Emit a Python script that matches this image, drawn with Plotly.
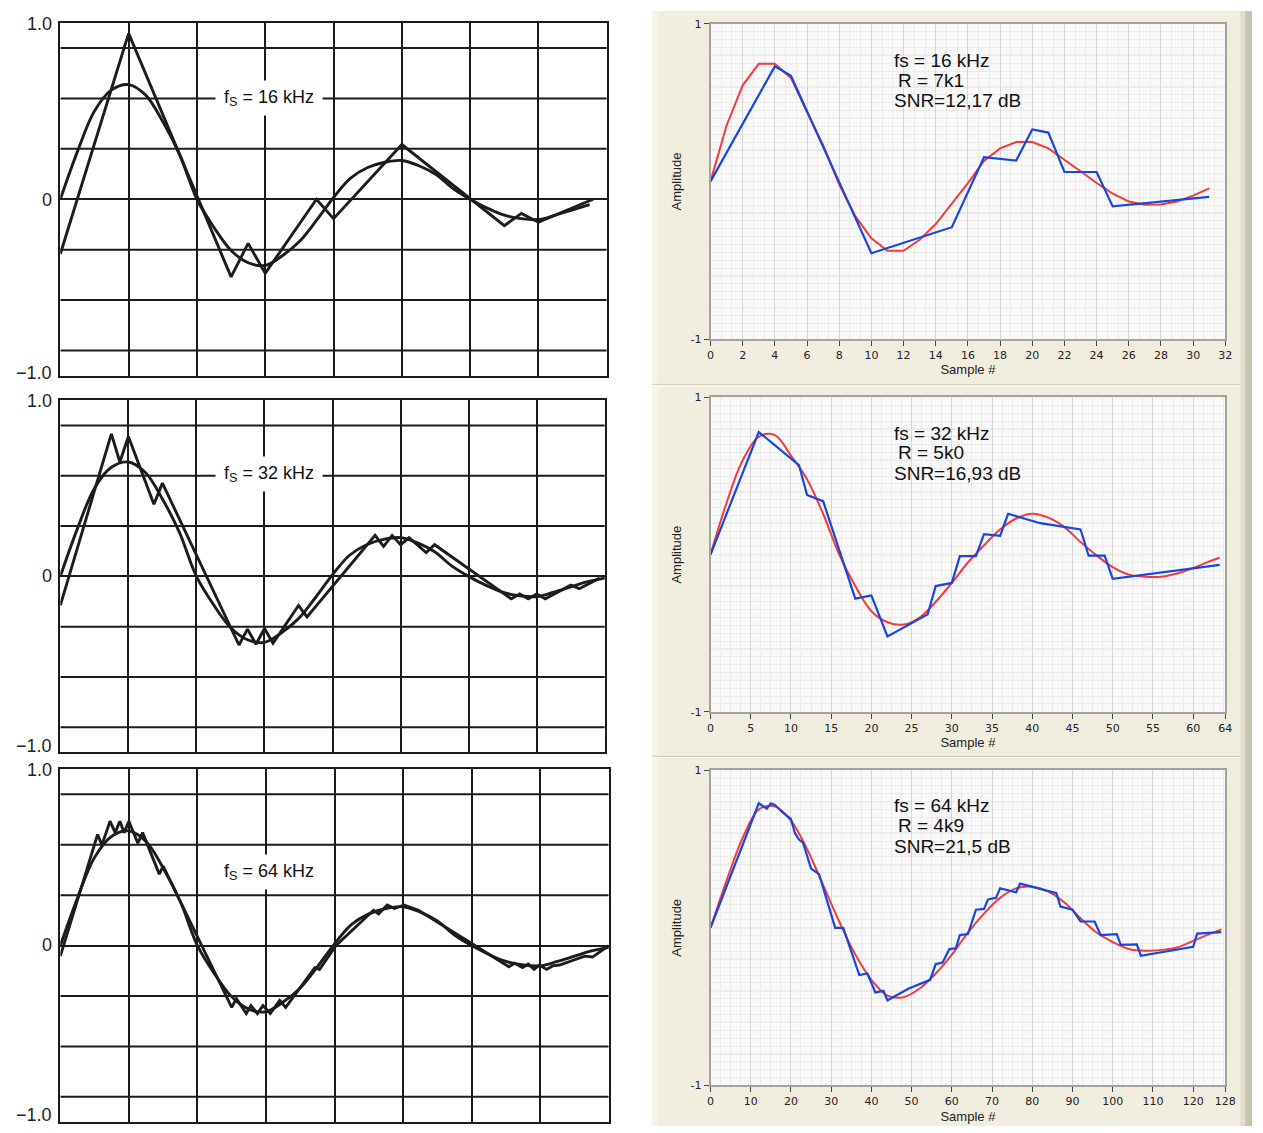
import plotly.graph_objects as go

W, H = 1263, 1133

# ---------------- data ----------------
# Left column (datasheet style): analog reference, one value per 1/4 grid division
L_SMOOTH = [0.0, 0.27, 0.50, 0.62, 0.65, 0.59, 0.44, 0.25, 0.0, -0.16, -0.29, -0.36, -0.375,
            -0.32, -0.24, -0.12, 0.01, 0.12, 0.18, 0.21, 0.22, 0.19, 0.14, 0.06, 0.0, -0.05,
            -0.09, -0.11, -0.115, -0.09, -0.06, -0.03, -0.01]

# reconstructed outputs (sample index, amplitude)
L1_X = [0, 4, 10, 11, 12, 15, 16, 20, 26, 27, 28, 31.2]
L1_Y = [-0.31, 0.94, -0.44, -0.25, -0.42, 0.0, -0.11, 0.31, -0.15, -0.08, -0.13, 0.0]

L2_X = [0, 6, 7, 8, 11, 12, 21, 22, 23, 24, 25, 28, 29, 37, 38, 39, 40, 41, 43, 44,
        53, 54, 55, 56, 57, 60, 61, 63.4]
L2_Y = [-0.165, 0.81, 0.65, 0.795, 0.41, 0.53, -0.39, -0.30, -0.386, -0.296, -0.38, -0.165,
        -0.23, 0.233, 0.17, 0.233, 0.18, 0.22, 0.135, 0.18, -0.128, -0.10, -0.128, -0.10,
        -0.128, -0.05, -0.07, -0.01]

L3_X = [0, 8.7, 9.7, 11.6, 12.8, 13.9, 14.9, 16, 18.1, 19.2, 23.1, 24, 40, 41.1, 43.4, 44.5,
        46, 47.3, 49, 51.2, 52.6, 59.4, 60.5, 64.3, 73.1, 74.3, 76.3, 78, 80.2, 83.6, 104.7,
        106, 107.9, 109.2, 110.6, 111.8, 113.5, 114.9, 116.5, 122.4, 124.2, 128]
L3_Y = [-0.06, 0.63, 0.57, 0.705, 0.64, 0.705, 0.64, 0.705, 0.58, 0.64, 0.405, 0.45, -0.35,
        -0.30, -0.385, -0.34, -0.385, -0.34, -0.385, -0.31, -0.35, -0.125, -0.135, 0.0, 0.2,
        0.18, 0.23, 0.21, 0.23, 0.2, -0.12, -0.10, -0.125, -0.105, -0.135, -0.11, -0.135,
        -0.115, -0.11, -0.06, -0.065, 0.0]

LEFT_N = [32, 64, 128]
LEFT_LABELS = ["f<sub>S</sub> = 16 kHz", "f<sub>S</sub> = 32 kHz", "f<sub>S</sub> = 64 kHz"]
LEFT_YTICK_TEXT = ["1.0", "0", "\u22121.0"]
LEFT_YGRID = [-6 / 7, -4 / 7, -2 / 7, 2 / 7, 4 / 7, 6 / 7]

# Right column (measurement): red = input, blue = reconstructed
R1_RED_X = list(range(32))
R1_RED_Y = [0.0, 0.355, 0.61, 0.746, 0.746, 0.657, 0.44, 0.23, -0.02, -0.22, -0.36, -0.44,
            -0.44, -0.37, -0.27, -0.14, -0.01, 0.13, 0.21, 0.25, 0.25, 0.21, 0.14, 0.065,
            -0.01, -0.077, -0.127, -0.148, -0.146, -0.127, -0.09, -0.044]
R1_BLUE_X = [0, 4, 5, 10, 15, 17, 19, 20, 21, 22, 24, 25, 31]
R1_BLUE_Y = [0.0, 0.73, 0.67, -0.455, -0.29, 0.154, 0.133, 0.33, 0.31, 0.06, 0.06, -0.158, -0.098]

R2_RED_X = list(range(0, 63, 2)) + [63.3]
R2_RED_Y = [0.0, 0.33, 0.60, 0.75, 0.76, 0.63, 0.48, 0.26, 0.0, -0.20, -0.36, -0.43, -0.445,
            -0.40, -0.30, -0.18, -0.05, 0.06, 0.16, 0.23, 0.26, 0.235, 0.175, 0.08, -0.005,
            -0.08, -0.127, -0.14, -0.14, -0.12, -0.085, -0.044, -0.02]
R2_BLUE_X = [0, 6, 11, 12, 14, 18, 20, 22, 27, 28, 30, 31, 33, 34, 36, 37, 41, 46, 47, 49, 50, 63.3]
R2_BLUE_Y = [0.0, 0.78, 0.57, 0.38, 0.34, -0.28, -0.26, -0.52, -0.38, -0.20, -0.18, -0.01,
             -0.01, 0.13, 0.12, 0.26, 0.20, 0.16, -0.006, -0.006, -0.154, -0.065]

R3_RED_X = list(range(0, 125, 4)) + [127]
R3_RED_Y = [0.0, 0.30, 0.57, 0.75, 0.77, 0.68, 0.50, 0.27, 0.04, -0.17, -0.33, -0.43, -0.44,
            -0.385, -0.29, -0.17, -0.03, 0.09, 0.19, 0.25, 0.26, 0.23, 0.16, 0.06, -0.03,
            -0.09, -0.135, -0.146, -0.14, -0.125, -0.083, -0.04, -0.01]
R3_BLUE_X = [0, 12, 14, 15, 16, 18, 20, 21, 22, 23, 25, 27, 31, 33, 37, 39, 41, 43, 44, 49.3,
             54.6, 56, 57.7, 59.4, 61, 62, 64, 66, 68, 69, 71, 72, 76, 77, 86, 87, 90, 92, 95.5,
             97, 101, 102, 106, 107, 120, 121, 127]
R3_BLUE_Y = [0.0, 0.79, 0.755, 0.79, 0.78, 0.73, 0.69, 0.60, 0.56, 0.54, 0.375, 0.34, 0.0, 0.0,
             -0.30, -0.29, -0.41, -0.40, -0.46, -0.385, -0.33, -0.23, -0.22, -0.135, -0.13,
             -0.046, -0.04, 0.115, 0.12, 0.18, 0.19, 0.25, 0.225, 0.28, 0.22, 0.135, 0.115,
             0.04, 0.04, -0.046, -0.04, -0.108, -0.105, -0.177, -0.12, -0.037, -0.027]

RIGHT_N = [32, 64, 128]
RIGHT_XTICKS = [list(range(0, 33, 2)), list(range(0, 61, 5)) + [64], list(range(0, 121, 10)) + [128]]
RIGHT_XMINOR = [2 / 3, 1.25, 2.5]
RIGHT_TEXT = [["fs = 16 kHz", "R = 7k1", "SNR=12,17 dB"],
              ["fs = 32 kHz", "R = 5k0", "SNR=16,93 dB"],
              ["fs = 64 kHz", "R = 4k9", "SNR=21,5 dB"]]
RIGHT_YTICKS = [-1, 1]
RIGHT_YTEXT = ["-1", "1"]
RIGHT_YGRID = [-0.8, -0.6, -0.4, -0.2, 0, 0.2, 0.4, 0.6, 0.8]

LEFT_SERIES = [(L1_X, L1_Y), (L2_X, L2_Y), (L3_X, L3_Y)]
RIGHT_SERIES = [(R1_RED_X, R1_RED_Y, R1_BLUE_X, R1_BLUE_Y, "linear"),
                (R2_RED_X, R2_RED_Y, R2_BLUE_X, R2_BLUE_Y, "spline"),
                (R3_RED_X, R3_RED_Y, R3_BLUE_X, R3_BLUE_Y, "spline")]

# ---------------- layout geometry (pixels) ----------------
LEFT_BOX = [(57, 610, 17, 374), (57, 608, 399, 755), (57, 612, 772, 1129)]
LEFT_TICK_Y = [(18, 196, 371), (400, 577, 749), (773, 950, 1122)]
RIGHT_BOX = [(715, 1236, 18, 337), (715, 1236, 396, 714), (715, 1236, 773, 1092)]
RIGHT_FRAME = [(5, 382), (385, 758), (761, 1133)]
LEFT_LABEL_Y = [93, 473, 876]
RIGHT_TEXT_Y = [(55, 75, 96), (432, 452, 473), (809, 829, 850)]
RIGHT_TEXT_X = [899, 903, 899]


def dx(a, b):
    return [a / W, b / W]


def dy(top, bottom):
    return [1 - bottom / H, 1 - top / H]


fig = go.Figure()
layout = dict(width=W, height=H, margin=dict(l=0, r=0, t=0, b=0),
              paper_bgcolor="white", plot_bgcolor="rgba(0,0,0,0)", showlegend=False)
shapes = []
annotations = []

INK = "#1c1c1c"
FONT_L = "Liberation Sans, Arial, sans-serif"

# ---------- left column ----------
for i in range(3):
    n = LEFT_N[i]
    xa = "x" if i == 0 else f"x{i + 1}"
    ya = "y" if i == 0 else f"y{i + 1}"
    xk = "xaxis" if i == 0 else f"xaxis{i + 1}"
    yk = "yaxis" if i == 0 else f"yaxis{i + 1}"
    x0, x1, y0, y1 = LEFT_BOX[i]
    step = n / 8
    sm_x = [k * n / 32 for k in range(len(L_SMOOTH))]
    sm_y = L_SMOOTH
    if i == 0:
        sm_x, sm_y = sm_x[:32], sm_y[:32]
    fig.add_trace(go.Scatter(x=sm_x, y=sm_y, mode="lines", xaxis=xa, yaxis=ya,
                             line=dict(color=INK, width=2.9, shape="spline")))
    jx, jy = LEFT_SERIES[i]
    fig.add_trace(go.Scatter(x=jx, y=jy, mode="lines", xaxis=xa, yaxis=ya,
                             line=dict(color=INK, width=2.9)))
    layout[xk] = dict(domain=dx(x0, x1), anchor=ya, range=[0, n],
                      tickvals=[k * step for k in range(9)], showticklabels=False,
                      showgrid=True, gridcolor=INK, gridwidth=2, zeroline=False,
                      showline=True, mirror=True, linecolor=INK, linewidth=2, ticks="")
    layout[yk] = dict(domain=dy(y0, y1), anchor=xa, range=[-1, 1],
                      tickvals=[-1, 0, 1], showticklabels=False,
                      showgrid=True, gridcolor=INK, gridwidth=2, zeroline=False,
                      showline=True, mirror=True, linecolor=INK, linewidth=2, ticks="")
    for v in LEFT_YGRID:
        shapes.append(dict(type="line", xref=xa, yref=ya, x0=0, x1=n, y0=v, y1=v,
                           line=dict(color=INK, width=2), layer="below"))
    for txt, py in zip(LEFT_YTICK_TEXT, LEFT_TICK_Y[i]):
        annotations.append(dict(xref="paper", yref="paper", x=51 / W, y=1 - py / H,
                                text=txt, showarrow=False, xanchor="right", yanchor="middle",
                                font=dict(family=FONT_L, size=18, color="#222")))
    annotations.append(dict(xref="paper", yref="paper", x=268 / W, y=1 - LEFT_LABEL_Y[i] / H,
                            text=LEFT_LABELS[i], showarrow=False, bgcolor="white",
                            width=104, height=32, xanchor="center", yanchor="middle",
                            font=dict(family=FONT_L, size=18, color="#111")))

# ---------- right column backgrounds ----------
for i in range(3):
    t, b = RIGHT_FRAME[i]
    shapes.append(dict(type="rect", xref="paper", yref="paper", x0=656 / W, x1=1251 / W,
                       y0=1 - b / H, y1=1 - t / H, fillcolor="#F1EEDF", line=dict(width=0),
                       layer="below"))
    shapes.append(dict(type="rect", xref="paper", yref="paper", x0=656 / W, x1=662 / W,
                       y0=1 - b / H, y1=1 - t / H, fillcolor="#F6F4EA", line=dict(width=0),
                       layer="below"))
    x0, x1, y0, y1 = RIGHT_BOX[i]
    shapes.append(dict(type="rect", xref="paper", yref="paper", x0=x0 / W, x1=x1 / W,
                       y0=1 - y1 / H, y1=1 - y0 / H, fillcolor="#F9F9F9", line=dict(width=0),
                       layer="below"))
for yy in (383, 759):
    shapes.append(dict(type="line", xref="paper", yref="paper", x0=656 / W, x1=1251 / W,
                       y0=1 - yy / H, y1=1 - yy / H, line=dict(color="#D4D0BC", width=1.5),
                       layer="below"))
shapes.append(dict(type="rect", xref="paper", yref="paper", x0=1251 / W, x1=1256 / W,
                   y0=0, y1=1 - 5 / H, fillcolor="#E2DECB", line=dict(width=0), layer="below"))
shapes.append(dict(type="rect", xref="paper", yref="paper", x0=1256 / W, x1=1,
                   y0=0, y1=1 - 5 / H, fillcolor="#C8C4AF", line=dict(width=0), layer="below"))

# ---------- right column charts ----------
FONT_R = "DejaVu Sans, Verdana, sans-serif"
for i in range(3):
    k = i + 4
    xa, ya = f"x{k}", f"y{k}"
    n = RIGHT_N[i]
    x0, x1, y0, y1 = RIGHT_BOX[i]
    rx, ry, bx, by, shp = RIGHT_SERIES[i]
    fig.add_trace(go.Scatter(x=rx, y=ry, mode="lines", xaxis=xa, yaxis=ya,
                             line=dict(color="#F53A3A", width=2, shape=shp)))
    fig.add_trace(go.Scatter(x=bx, y=by, mode="lines", xaxis=xa, yaxis=ya,
                             line=dict(color="#1747E0", width=2.2)))
    layout[f"xaxis{k}"] = dict(domain=dx(x0, x1), anchor=ya, range=[0, n],
                               tickvals=RIGHT_XTICKS[i],
                               tickfont=dict(family=FONT_R, size=11, color="#222"),
                               ticks="outside", ticklen=5, tickcolor="#444",
                               showgrid=True, gridcolor="#D6D6D6", gridwidth=1, zeroline=False,
                               minor=dict(dtick=RIGHT_XMINOR[i], tick0=0, showgrid=True,
                                          gridcolor="#EBEBEB", ticks=""),
                               showline=True, mirror=True, linecolor="#A2A2A2", linewidth=1.5,
                               title=dict(text="Sample #", standoff=4,
                                          font=dict(family=FONT_L, size=13, color="#222")))
    layout[f"yaxis{k}"] = dict(domain=dy(y0, y1), anchor=xa, range=[-1, 1],
                               tickvals=RIGHT_YTICKS, ticktext=RIGHT_YTEXT,
                               tickfont=dict(family=FONT_R, size=11, color="#222"),
                               ticks="outside", ticklen=5, tickcolor="#444",
                               showgrid=True, gridcolor="#D6D6D6", gridwidth=1, zeroline=False,
                               minor=dict(dtick=0.05, tick0=0, showgrid=True,
                                          gridcolor="#EBEBEB", ticks=""),
                               showline=True, mirror=True, linecolor="#A2A2A2", linewidth=1.5,
                               title=dict(text="Amplitude", standoff=6,
                                          font=dict(family=FONT_L, size=13, color="#222")))
    for v in RIGHT_YGRID:
        shapes.append(dict(type="line", xref=xa, yref=ya, x0=0, x1=n, y0=v, y1=v,
                           line=dict(color="#D6D6D6", width=1), layer="below"))
    for j, line in enumerate(RIGHT_TEXT[i]):
        annotations.append(dict(xref="paper", yref="paper", x=RIGHT_TEXT_X[j] / W,
                                y=1 - RIGHT_TEXT_Y[i][j] / H, text=line, showarrow=False,
                                xanchor="left", yanchor="middle",
                                font=dict(family=FONT_L, size=19, color="#111")))

layout["shapes"] = shapes
layout["annotations"] = annotations
fig.update_layout(**layout)
fig.write_html("out.html", config={"displayModeBar": False},
               post_script="document.body.style.margin='0';document.body.style.overflow='hidden';")
